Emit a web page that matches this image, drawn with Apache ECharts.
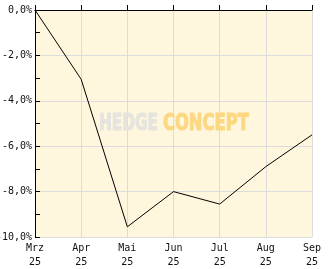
<!DOCTYPE html>
<html>
<head>
<meta charset="utf-8">
<script src="https://cdn.jsdelivr.net/npm/echarts@6/dist/echarts.min.js"></script>
<style>html,body{margin:0;padding:0;background:#fff}#c{width:332px;height:269px}</style>
</head>
<body>
<div id="c"></div>
<script>
var categories = ['Mrz\n25', 'Apr\n25', 'Mai\n25', 'Jun\n25', 'Jul\n25', 'Aug\n25', 'Sep\n25'];
var values = [0, -3.05, -9.55, -8.0, -8.55, -6.9, -5.5];
var yMin = -10, yMax = 0, yStep = 2, yTickStep = 1;

var chart = echarts.init(document.getElementById('c'), null, {renderer: 'canvas'});
var font = 'DejaVu Sans Mono';
chart.setOption({
  animation: false,
  backgroundColor: '#ffffff',
  grid: {left: 35, right: 20, top: 10, bottom: 32, show: true, backgroundColor: '#fff6de', borderWidth: 0,
    containLabel: false, outerBoundsMode: 'none'},
  xAxis: {
    type: 'category', data: categories, boundaryGap: false,
    axisLine: {lineStyle: {color: '#000', width: 1}},
    axisTick: {inside: true, length: 5, lineStyle: {color: '#000'}},
    axisLabel: {color: '#111', fontFamily: font, fontSize: 10, lineHeight: 14, margin: 4, interval: 0},
    splitLine: {show: true, lineStyle: {color: '#dcdcdc', width: 1}}
  },
  yAxis: [{
    type: 'value', min: yMin, max: yMax, interval: yTickStep,
    axisLine: {show: true, lineStyle: {color: '#000', width: 1}},
    axisTick: {show: true, inside: true, length: 5, lineStyle: {color: '#000'}},
    axisLabel: {color: '#111', fontFamily: font, fontSize: 10, margin: 3,
      formatter: function (v) { return (Math.round(v) % yStep === 0) ? v.toFixed(1).replace('.', ',') + '%' : ''; }},
    splitLine: {show: false}
  }, {
    type: 'value', min: yMin, max: yMax, interval: yStep, position: 'left',
    axisLine: {show: false}, axisTick: {show: false}, axisLabel: {show: false},
    splitLine: {show: true, lineStyle: {color: '#dcdcdc', width: 1}}
  }],
  graphic: [
    {type: 'text', x: 99, y: 124, scaleX: 0.665, z: 1,
      style: {text: 'HEDGE', font: 'bold 23px "DejaVu Sans"', fill: '#e6e4de', stroke: '#e6e4de', lineWidth: 1.2, textVerticalAlign: 'middle', textAlign: 'left'}},
    {type: 'text', x: 163, y: 124, scaleX: 0.71, z: 1,
      style: {text: 'CONCEPT', font: 'bold 23px "DejaVu Sans"', fill: '#fdd882', stroke: '#fdd882', lineWidth: 1.2, textVerticalAlign: 'middle', textAlign: 'left'}}
  ],
  series: [{
    type: 'line', data: values, yAxisIndex: 0, showSymbol: false, symbol: 'none', z: 5,
    lineStyle: {color: '#000', width: 1}
  }]
});
</script>
</body>
</html>
